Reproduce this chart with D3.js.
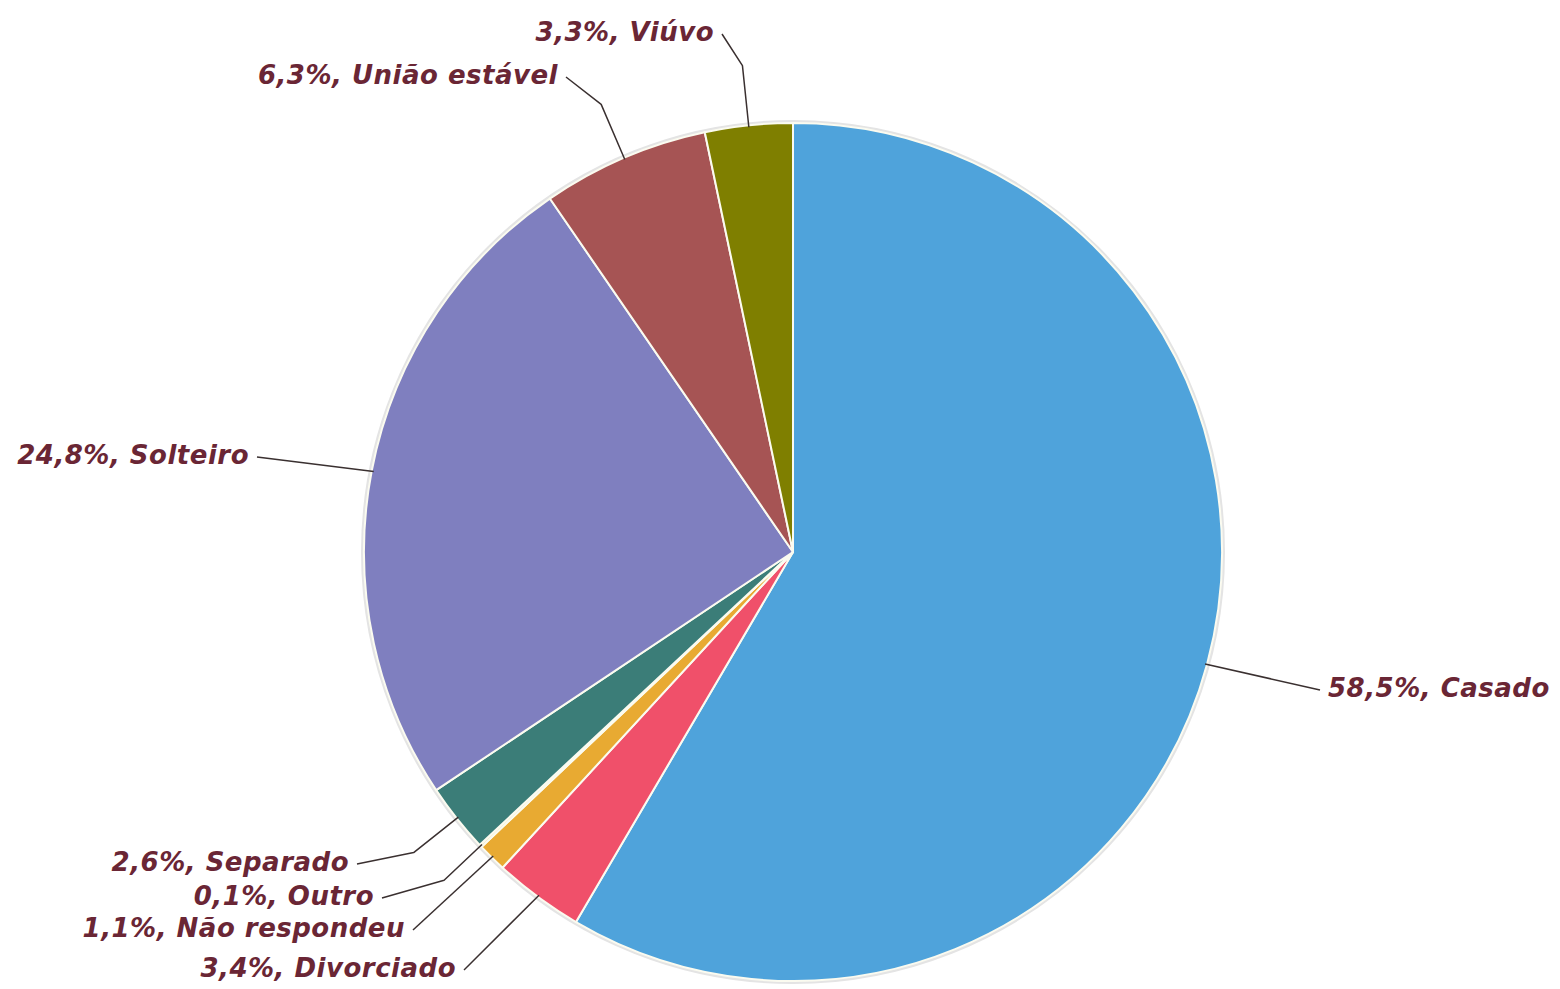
<!DOCTYPE html>
<html>
<head>
<meta charset="utf-8">
<script src="https://cdn.jsdelivr.net/npm/d3@7"></script>
<style>
html,body{margin:0;padding:0;background:#fff;}
svg{display:block;}
</style>
</head>
<body>
<svg id="chart" width="1560" height="989"></svg>
<script>
// Data
const categories = ["Casado", "Divorciado", "Não respondeu", "Outro", "Separado", "Solteiro", "União estável", "Viúvo"];
const values = [58.5, 3.4, 1.1, 0.1, 2.6, 24.8, 6.3, 3.3];
const valueLabels = ["58,5%", "3,4%", "1,1%", "0,1%", "2,6%", "24,8%", "6,3%", "3,3%"];
const colors = ["#4fa3db", "#f0506a", "#e8aa32", "#efe7c0", "#3b7d78", "#7f7fbf", "#a65454", "#7f7f00"];

// Label layout (text anchor positions and leader elbow length)
const labelLayout = [
  {x: 1328, y: 688, anchor: "start", ext: 0},
  {x: 456, y: 968, anchor: "end", ext: 0},
  {x: 405, y: 928, anchor: "end", ext: 0},
  {x: 374, y: 896, anchor: "end", ext: 50},
  {x: 349, y: 862, anchor: "end", ext: 55},
  {x: 249, y: 455, anchor: "end", ext: 0},
  {x: 558, y: 75, anchor: "end", ext: 58},
  {x: 714, y: 32, anchor: "end", ext: 60}
];

const svg = d3.select("#chart");
const cx = 793, cy = 552, R = 429;
const g = svg.append("g").attr("transform", `translate(${cx},${cy})`);

const data = categories.map((c, i) => ({name: c, value: values[i], label: valueLabels[i], color: colors[i], layout: labelLayout[i]}));
const pie = d3.pie().value(d => d.value).sort(null);
const arcs = pie(data);
const arc = d3.arc().innerRadius(0).outerRadius(R);

// soft outline
g.append("circle").attr("r", R + 1.5).attr("fill", "none").attr("stroke", "#e4e4e4").attr("stroke-width", 3);

g.selectAll("path.slice").data(arcs).enter().append("path")
  .attr("class", "slice")
  .attr("d", arc)
  .attr("fill", d => d.data.color)
  .attr("stroke", "#fbfbf0")
  .attr("stroke-width", 2)
  .attr("stroke-linejoin", "round");

const line = d3.line();

// leader lines & labels
arcs.forEach(d => {
  const mid = (d.startAngle + d.endAngle) / 2;
  const sx = Math.sin(mid), sy = -Math.cos(mid);
  const L = d.data.layout;
  const pts = [[sx * (R - 2), sy * (R - 2)]];
  if (L.ext > 0) pts.push([sx * (R + L.ext), sy * (R + L.ext)]);
  const tx = L.x - cx, ty = L.y - cy;
  const endX = L.anchor === "start" ? tx - 8 : tx + 8;
  pts.push([endX, ty + 2]);
  g.append("path").attr("d", line(pts))
    .attr("fill", "none").attr("stroke", "#3a3030").attr("stroke-width", 1.5)
    .attr("stroke-linejoin", "round");
  g.append("text")
    .attr("x", tx).attr("y", ty)
    .attr("dy", "0.35em")
    .attr("text-anchor", L.anchor)
    .attr("font-family", "DejaVu Sans, Verdana, sans-serif")
    .attr("font-weight", "bold")
    .attr("font-style", "italic")
    .attr("font-size", 26)
    .attr("letter-spacing", 0.5)
    .attr("fill", "#6a2635")
    .text(`${d.data.label}, ${d.data.name}`);
});
</script>
</body>
</html>
